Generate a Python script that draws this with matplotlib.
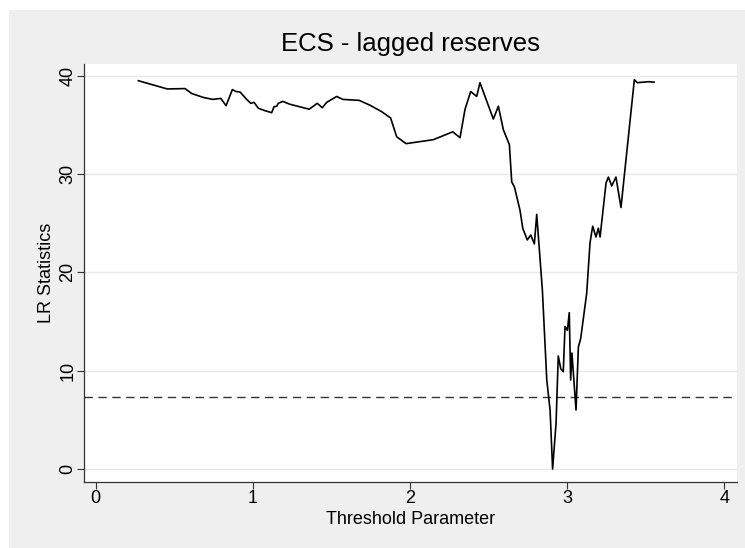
"""LR statistic profile over the threshold parameter (ECS - lagged reserves)."""

import matplotlib
matplotlib.use("Agg")
import matplotlib.pyplot as plt
from matplotlib.patches import Rectangle

plt.rcParams["font.family"] = ["Liberation Sans", "DejaVu Sans"]

# threshold grid and LR statistics
threshold = [0.272, 0.456, 0.569, 0.611, 0.685, 0.745, 0.796, 0.830, 0.870, 0.893,
             0.919, 0.961, 0.987, 1.008, 1.035, 1.078, 1.120, 1.135, 1.152, 1.162,
             1.190, 1.237, 1.359, 1.410, 1.442, 1.470, 1.534, 1.572, 1.677, 1.746,
             1.820, 1.877, 1.915, 1.975, 2.148, 2.272, 2.318, 2.350, 2.386, 2.424,
             2.445, 2.530, 2.562, 2.594, 2.632, 2.647, 2.664, 2.700, 2.717, 2.746,
             2.768, 2.791, 2.806, 2.842, 2.870, 2.891, 2.907, 2.929, 2.943, 2.959,
             2.975, 2.986, 3.001, 3.013, 3.022, 3.030, 3.056, 3.071, 3.086, 3.124,
             3.145, 3.162, 3.183, 3.198, 3.209, 3.247, 3.262, 3.283, 3.310, 3.342,
             3.427, 3.446, 3.516, 3.552]
lr_stat = [39.5, 38.66, 38.7, 38.2, 37.8, 37.6, 37.7, 36.96, 38.6, 38.4,
           38.35, 37.6, 37.2, 37.3, 36.7, 36.45, 36.25, 36.86, 36.9, 37.2,
           37.4, 37.1, 36.6, 37.2, 36.75, 37.3, 37.9, 37.6, 37.5, 37.0,
           36.35, 35.7, 33.8, 33.1, 33.5, 34.3, 33.7, 36.6, 38.4, 37.9,
           39.3, 35.6, 36.9, 34.5, 33.0, 29.2, 28.7, 26.3, 24.5, 23.3,
           23.8, 22.9, 25.9, 18.2, 9.05, 6.0, 0.0, 4.65, 11.5, 10.2,
           9.9, 14.5, 14.1, 15.9, 9.05, 11.8, 6.0, 12.4, 13.3, 17.9,
           23.0, 24.7, 23.6, 24.5, 23.6, 29.1, 29.7, 28.8, 29.7, 26.6,
           39.6, 39.3, 39.4, 39.35]
critical_value = 7.35

x_ticks = [0, 1, 2, 3, 4]
y_ticks = [0, 10, 20, 30, 40]

bg = "#efefef"
fig = plt.figure(figsize=(7.45, 5.48), dpi=100, facecolor=bg)
# thin white strips along the top and left edges, as in the exported graph
fig.patches.append(Rectangle((0, 1 - 10 / 548), 1, 10 / 548, transform=fig.transFigure,
                             facecolor="white", edgecolor="none", zorder=-10))
fig.patches.append(Rectangle((0, 0), 9 / 745, 1, transform=fig.transFigure,
                             facecolor="white", edgecolor="none", zorder=-10))

ax = fig.add_axes([83.5 / 745, 66 / 548, (737 - 83.5) / 745, (482 - 64) / 548])
ax.set_zorder(1)
ax.set_facecolor("white")

ax.plot(threshold, lr_stat, color="black", linewidth=1.2, zorder=3)
ax.axhline(critical_value, color="#333333", linewidth=1.0, linestyle=(0, (6, 4)), zorder=2)

ax.set_xlim(-0.077, 4.08)
ax.set_ylim(-1.32, 41.2)
ax.set_xticks(x_ticks)
ax.set_yticks(y_ticks)
ax.set_yticklabels([str(v) for v in y_ticks], rotation=90, va="center")
ax.tick_params(axis="both", direction="out", length=5, width=0.8, color="#333333",
               labelsize=13)
ax.tick_params(axis="x", pad=1)
ax.tick_params(axis="y", pad=0)
ax.yaxis.grid(True, color="#e8e8e8", linewidth=1.0)
ax.set_axisbelow(True)

for side in ("top", "right"):
    ax.spines[side].set_visible(False)
for side in ("left", "bottom"):
    ax.spines[side].set_color("#333333")
    ax.spines[side].set_linewidth(0.9)

ax.set_xlabel("Threshold Parameter", fontsize=13, labelpad=3)
ax.set_ylabel("LR Statistics", fontsize=13, labelpad=3)
ax.set_title("ECS - lagged reserves", fontsize=18.5, pad=9)

fig.savefig("out.png", dpi=100, facecolor=fig.get_facecolor())
